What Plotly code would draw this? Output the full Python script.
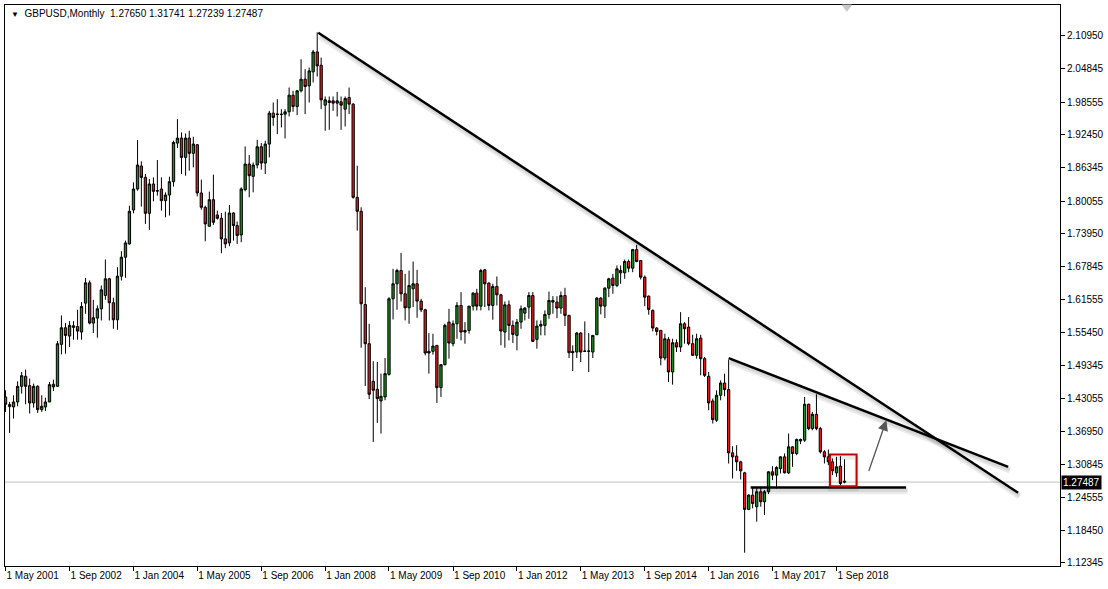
import pandas as pd
import plotly.graph_objects as go

# ---------------- data (GBPUSD monthly, May 2001 .. Nov 2018) ----------------
first_month = "2001-05-01"
opens = [1.4341,1.4198,1.4154,1.4247,1.4540,1.4727,1.4552,1.4229,1.4540,1.4104,
         1.4154,1.4247,1.4578,1.4540,1.5325,1.5635,1.5480,1.5642,1.5660,1.5555,
         1.6096,1.6476,1.5723,1.5816,1.5990,1.6239,1.6551,1.6103,1.5785,1.6601,
         1.6955,1.7204,1.7839,1.8231,1.8661,1.8449,1.7777,1.8325,1.8200,1.8231,
         1.8013,1.8119,1.8368,1.9090,1.9184,1.8823,1.9184,1.8898,1.9060,1.8157,
         1.7889,1.7534,1.8032,1.7746,1.7684,1.7298,1.7223,1.7783,1.7547,1.7372,
         1.8219,1.8698,1.8468,1.8680,1.9022,1.8717,1.9072,1.9651,1.9626,1.9632,
         1.9632,1.9676,1.9987,1.9775,2.0068,2.0286,2.0162,2.0423,2.0796,2.0547,
         1.9800,1.9881,1.9881,1.9838,1.9863,1.9725,1.9943,1.9819,1.8075,1.7814,
         1.6071,1.5337,1.4633,1.4484,1.4266,1.4341,1.4764,1.6177,1.6458,1.6707,
         1.6271,1.6009,1.6364,1.6458,1.6134,1.5972,1.5194,1.5194,1.5306,1.4515,
         1.4945,1.5741,1.5337,1.5710,1.6053,1.5586,1.5586,1.6040,1.6283,1.6040,
         1.6719,1.6470,1.6053,1.6408,1.6252,1.5555,1.6065,1.5679,1.5492,1.5741,
         1.5909,1.6022,1.6239,1.5418,1.5667,1.5679,1.5885,1.6115,1.6115,1.6003,
         1.6239,1.5866,1.5194,1.5181,1.5536,1.5200,1.5194,1.5181,1.5505,1.6190,
         1.6040,1.6376,1.6563,1.6426,1.6707,1.6663,1.6875,1.6750,1.7098,1.6893,
         1.6582,1.6227,1.5960,1.5630,1.5586,1.5069,1.5418,1.4808,1.5355,1.5275,
         1.5710,1.5648,1.5337,1.5119,1.5443,1.5057,1.4727,1.4266,1.3905,1.4372,
         1.4602,1.4478,1.3295,1.3233,1.3127,1.2921,1.2237,1.2504,1.2287,1.2567,
         1.2380,1.2567,1.2940,1.2878,1.3002,1.3220,1.2921,1.3407,1.3283,1.3519,
         1.3532,1.4204,1.3749,1.4017,1.3749,1.3314,1.3220,1.3127,1.2921,1.3046,
         1.27650]
highs = [1.4465,1.4247,1.4372,1.4633,1.4808,1.4851,1.4683,1.4590,1.4559,1.4372,
         1.4328,1.4621,1.4665,1.5387,1.5866,1.5723,1.5760,1.5760,1.5972,1.6115,
         1.6569,1.6520,1.6159,1.6053,1.6426,1.6912,1.6570,1.6196,1.6768,1.7067,
         1.7267,1.7920,1.8356,1.9146,1.8748,1.8512,1.8418,1.8449,1.8773,1.8449,
         1.8169,1.8462,1.9134,1.9539,1.9290,1.9271,1.9321,1.9209,1.9072,1.8406,
         1.7920,1.8182,1.8499,1.7827,1.7783,1.7808,1.7933,1.7796,1.7622,1.8263,
         1.9028,1.8866,1.8729,1.9153,1.9090,1.9134,1.9694,1.9850,1.9912,1.9725,
         1.9725,2.0130,2.0068,2.0086,2.0659,2.0473,2.0504,2.0834,2.1161,2.0690,
         1.9962,1.9962,1.9962,2.0049,1.9962,1.9962,2.0130,1.9838,1.8667,1.7889,
         1.6395,1.5710,1.5010,1.4994,1.4777,1.5069,1.6208,1.6738,1.6738,1.7037,
         1.6644,1.6706,1.6874,1.6719,1.6177,1.5990,1.5536,1.5523,1.5306,1.4945,
         1.5710,1.5990,1.5772,1.6115,1.6302,1.5741,1.6040,1.6302,1.6364,1.6738,
         1.6738,1.6489,1.6458,1.6594,1.6271,1.6127,1.6146,1.5772,1.5800,1.6053,
         1.6022,1.6302,1.6302,1.5773,1.5773,1.5960,1.6314,1.6227,1.6227,1.6314,
         1.6383,1.5879,1.5306,1.5555,1.5555,1.5754,1.5536,1.5492,1.6208,1.6208,
         1.6395,1.6570,1.6644,1.6800,1.6800,1.6912,1.6912,1.7111,1.7185,1.6893,
         1.6613,1.6239,1.5978,1.5648,1.5586,1.5524,1.5461,1.5430,1.5418,1.5928,
         1.5741,1.5835,1.5505,1.5524,1.5505,1.5088,1.4808,1.4310,1.4465,1.4652,
         1.4776,1.5038,1.3419,1.3438,1.3146,1.2940,1.2523,1.2660,1.2660,1.2660,
         1.2598,1.2952,1.3046,1.3046,1.3233,1.3283,1.3656,1.3419,1.3563,1.3563,
         1.4341,1.4216,1.4061,1.4391,1.3780,1.3345,1.3357,1.3189,1.3220,1.3233,
         1.31741]
lows = [1.4061,1.3668,1.3936,1.4166,1.4403,1.4204,1.4030,1.4142,1.4042,1.4061,
        1.4079,1.4247,1.4453,1.4528,1.5138,1.5150,1.5275,1.5412,1.5412,1.5412,
        1.5897,1.5698,1.5536,1.5449,1.5772,1.6159,1.5772,1.5617,1.5598,1.6520,
        1.6570,1.7192,1.7777,1.8200,1.7902,1.7578,1.7466,1.8001,1.8107,1.7827,
        1.7702,1.7734,1.8275,1.8997,1.8511,1.8480,1.8574,1.8636,1.8094,1.7845,
        1.7254,1.7534,1.7559,1.7659,1.7030,1.7124,1.7161,1.7266,1.7204,1.7236,
        1.8188,1.8076,1.8169,1.8618,1.8593,1.8512,1.8823,1.9414,1.9258,1.9383,
        1.9178,1.9588,1.9676,1.9613,2.0037,1.9632,1.9850,2.0224,2.0336,1.9726,
        1.9321,1.9339,1.9694,1.9588,1.9339,1.9402,1.9632,1.8050,1.7453,1.5262,
        1.4546,1.4300,1.3500,1.3855,1.3656,1.4279,1.4740,1.5791,1.5972,1.6127,
        1.5773,1.5710,1.6022,1.5822,1.5928,1.5119,1.4777,1.5132,1.4229,1.4341,
        1.4932,1.5057,1.5287,1.5430,1.5399,1.5337,1.5524,1.5959,1.5959,1.5959,
        1.6022,1.5959,1.5785,1.6053,1.5306,1.5262,1.5399,1.5349,1.5213,1.5617,
        1.5772,1.5803,1.5368,1.5244,1.5492,1.5492,1.5804,1.5897,1.5816,1.5897,
        1.5667,1.5069,1.4826,1.5069,1.4995,1.5181,1.4808,1.5069,1.5505,1.5885,
        1.5816,1.6208,1.6271,1.6395,1.6458,1.6551,1.6675,1.6675,1.6862,1.6538,
        1.6040,1.5879,1.5567,1.5492,1.4932,1.5026,1.4621,1.4571,1.5181,1.5181,
        1.5337,1.5306,1.5107,1.5057,1.4746,1.4714,1.4092,1.3843,1.3874,1.4278,
        1.4353,1.3096,1.2816,1.2959,1.2797,1.1427,1.2224,1.2256,1.2006,1.2287,
        1.2131,1.2523,1.2784,1.2629,1.2909,1.2909,1.2897,1.3034,1.3252,1.3457,
        1.3500,1.3718,1.3718,1.3718,1.3283,1.3096,1.3065,1.2878,1.2847,1.2691,
        1.27239]
closes = [1.4204,1.4160,1.4247,1.4540,1.4739,1.4540,1.4229,1.4540,1.4104,1.4167,
          1.4247,1.4571,1.4528,1.5337,1.5635,1.5492,1.5679,1.5673,1.5573,1.6034,
          1.6476,1.5723,1.5822,1.5990,1.6345,1.6551,1.6103,1.5785,1.6601,1.6955,
          1.7223,1.7814,1.8231,1.8680,1.8449,1.7777,1.8325,1.8188,1.8194,1.8013,
          1.8119,1.8368,1.9103,1.9184,1.8823,1.9184,1.8898,1.9072,1.8157,1.7889,
          1.7578,1.8032,1.7609,1.7684,1.7298,1.7204,1.7783,1.7547,1.7360,1.8232,
          1.8698,1.8480,1.8680,1.9022,1.8717,1.9072,1.9651,1.9570,1.9632,1.9626,
          1.9676,1.9987,1.9775,2.0068,2.0286,2.0149,2.0441,2.0796,2.0535,1.9900,
          1.9900,1.9850,1.9838,1.9881,1.9800,1.9925,1.9819,1.8076,1.7814,1.6084,
          1.5337,1.4391,1.4466,1.4310,1.4353,1.4777,1.6177,1.6458,1.6707,1.6271,
          1.6009,1.6427,1.6458,1.6134,1.5972,1.5163,1.5163,1.5293,1.4515,1.4945,
          1.5679,1.5349,1.5710,1.6053,1.5555,1.5555,1.6040,1.6283,1.6040,1.6707,
          1.6458,1.6053,1.6408,1.6252,1.5573,1.6065,1.5679,1.5511,1.5741,1.5990,
          1.6003,1.6239,1.5380,1.5667,1.5698,1.5885,1.6146,1.6146,1.6003,1.6239,
          1.5866,1.5169,1.5169,1.5536,1.5181,1.5194,1.5200,1.5492,1.6190,1.6040,
          1.6376,1.6551,1.6426,1.6738,1.6663,1.6875,1.6750,1.7098,1.6874,1.6582,
          1.6208,1.5978,1.5630,1.5567,1.5069,1.5430,1.4808,1.5355,1.5275,1.5710,
          1.5617,1.5337,1.5119,1.5430,1.5057,1.4745,1.4229,1.3917,1.4372,1.4602,
          1.4478,1.3295,1.3220,1.3127,1.2959,1.2237,1.2504,1.2349,1.2567,1.2380,
          1.2567,1.2940,1.2878,1.3021,1.3220,1.2921,1.3407,1.3283,1.3544,1.3544,
          1.4204,1.3749,1.4017,1.3749,1.3314,1.3220,1.3127,1.2959,1.3034,1.2722,
          1.27487]

symbol_title = "GBPUSD,Monthly"
last_ohlc = ["1.27650", "1.31741", "1.27239", "1.27487"]

y_tick_values = [2.10950, 2.04845, 1.98555, 1.92450, 1.86345, 1.80055, 1.73950,
                 1.67845, 1.61555, 1.55450, 1.49345, 1.43055, 1.36950, 1.30845,
                 1.24555, 1.18450, 1.12345]
x_tick_dates = ["2001-05-01", "2002-09-01", "2004-01-01", "2005-05-01", "2006-09-01",
                "2008-01-01", "2009-05-01", "2010-09-01", "2012-01-01", "2013-05-01",
                "2014-09-01", "2016-01-01", "2017-05-01", "2018-09-01"]
x_tick_labels = ["1 May 2001", "1 Sep 2002", "1 Jan 2004", "1 May 2005", "1 Sep 2006",
                 "1 Jan 2008", "1 May 2009", "1 Sep 2010", "1 Jan 2012", "1 May 2013",
                 "1 Sep 2014", "1 Jan 2016", "1 May 2017", "1 Sep 2018"]

# drawn objects (anchors as date / price)
long_trend_x = ["2007-11-09", "2022-06-16"]
long_trend_y = [2.1156, 1.2547]
short_trend_x = ["2016-06-01", "2022-04-01"]
short_trend_y = [1.5068, 1.3033]
support_x = ["2016-11-16", "2020-02-13"]
support_y = [1.2648, 1.2648]
box_x = ["2018-07-13", "2019-02-01"]
box_y = [1.2672, 1.3264]
arrow_tail = ("2019-05-01", 1.2928)
arrow_head = ("2019-09-16", 1.3905)

x_range = ["2001-04-27", "2023-05-01"]
y_range = [1.1178, 2.1674]

# ---------------- figure ----------------
months = pd.date_range(first_month, periods=len(closes), freq="MS")
last_price = closes[-1]
FONT = "Liberation Sans, Arial, sans-serif"

fig = go.Figure()
fig.add_trace(go.Candlestick(
    x=months, open=opens, high=highs, low=lows, close=closes,
    increasing=dict(fillcolor="#1f8a1f", line=dict(color="#000000", width=1)),
    decreasing=dict(fillcolor="#e41b1b", line=dict(color="#000000", width=1)),
    whiskerwidth=0, showlegend=False, hoverinfo="skip",
))

shapes = []
# current price line
shapes.append(dict(type="line", xref="paper", yref="y", x0=0, x1=1,
                   y0=last_price, y1=last_price,
                   line=dict(color="#c0c0c0", width=1), layer="below"))

def shadowed_line(xs, ys, width):
    d0 = pd.Timestamp(xs[0]) + pd.Timedelta(days=12)
    d1 = pd.Timestamp(xs[1]) + pd.Timedelta(days=12)
    shapes.append(dict(type="line", xref="x", yref="y", x0=d0, x1=d1,
                       y0=ys[0] - 0.0065, y1=ys[1] - 0.0065,
                       line=dict(color="rgba(0,0,0,0.08)", width=width + 4)))
    shapes.append(dict(type="line", xref="x", yref="y", x0=d0, x1=d1,
                       y0=ys[0] - 0.0055, y1=ys[1] - 0.0055,
                       line=dict(color="rgba(0,0,0,0.08)", width=width + 1)))
    shapes.append(dict(type="line", xref="x", yref="y", x0=xs[0], x1=xs[1],
                       y0=ys[0], y1=ys[1], line=dict(color="#000000", width=width)))

shadowed_line(long_trend_x, long_trend_y, 2.5)
shadowed_line(short_trend_x, short_trend_y, 2.5)
shadowed_line(support_x, support_y, 2.5)

# red highlight box
shapes.append(dict(type="rect", xref="x", yref="y", x0=box_x[0], x1=box_x[1],
                   y0=box_y[0] - 0.006, y1=box_y[1] - 0.006,
                   line=dict(color="rgba(0,0,0,0.08)", width=4)))
shapes.append(dict(type="rect", xref="x", yref="y", x0=box_x[0], x1=box_x[1],
                   y0=box_y[0], y1=box_y[1], line=dict(color="#c00000", width=2)))

# small chart-shift marker at the top
shapes.append(dict(type="path", xref="paper", yref="paper",
                   path="M 0.7935 1 L 0.8025 1 L 0.798 0.989 Z",
                   fillcolor="#c8c8c8", line=dict(color="#c8c8c8", width=1)))

annotations = [
    dict(x=arrow_head[0], y=arrow_head[1], ax=arrow_tail[0], ay=arrow_tail[1],
         xref="x", yref="y", axref="x", ayref="y", text="", showarrow=True,
         arrowhead=2, arrowsize=1.6, arrowwidth=1.3, arrowcolor="#555555"),
    dict(xref="paper", yref="paper", x=0, y=1, xanchor="left", yanchor="top",
         xshift=4, yshift=-1, showarrow=False,
         text="<span style='font-size:8px'>▼</span>  " + symbol_title + "  " + " ".join(last_ohlc),
         font=dict(family=FONT, size=10, color="#000000")),
    dict(xref="paper", yref="y", x=1, y=last_price, xanchor="left", yanchor="middle",
         xshift=1, showarrow=False, text=f"{last_price:.5f}",
         bgcolor="#000000", borderpad=1,
         font=dict(family=FONT, size=10, color="#ffffff")),
]

fig.update_layout(
    width=1108, height=589,
    margin=dict(l=4, r=47, t=4, b=23),
    paper_bgcolor="#ffffff", plot_bgcolor="#ffffff",
    shapes=shapes, annotations=annotations,
    font=dict(family=FONT, size=10, color="#000000"),
    showlegend=False, boxgap=0.1,
)
fig.update_xaxes(
    type="date", range=x_range, rangeslider=dict(visible=False),
    tickvals=x_tick_dates, ticktext=x_tick_labels,
    ticks="outside", ticklen=4, tickcolor="#000000",
    ticklabelposition="outside right",
    showgrid=False, zeroline=False,
    showline=True, linecolor="#000000", linewidth=1, mirror=True,
    tickfont=dict(family=FONT, size=10, color="#000000"),
)
fig.update_yaxes(
    side="right", range=y_range,
    tickvals=y_tick_values, ticktext=[f"{v:.5f}" for v in y_tick_values],
    ticks="outside", ticklen=4, tickcolor="#000000",
    showgrid=False, zeroline=False,
    showline=True, linecolor="#000000", linewidth=1, mirror=True,
    tickfont=dict(family=FONT, size=10, color="#000000"),
)

fig.write_html("out.html", config={"displayModeBar": False})

# remove the browser's default page margin so the figure sits at the window origin
with open("out.html", "r", encoding="utf-8") as fh:
    page = fh.read()
page = page.replace("<head>", "<head><style>html,body{margin:0;padding:0;overflow:hidden;}</style>", 1)
with open("out.html", "w", encoding="utf-8") as fh:
    fh.write(page)
